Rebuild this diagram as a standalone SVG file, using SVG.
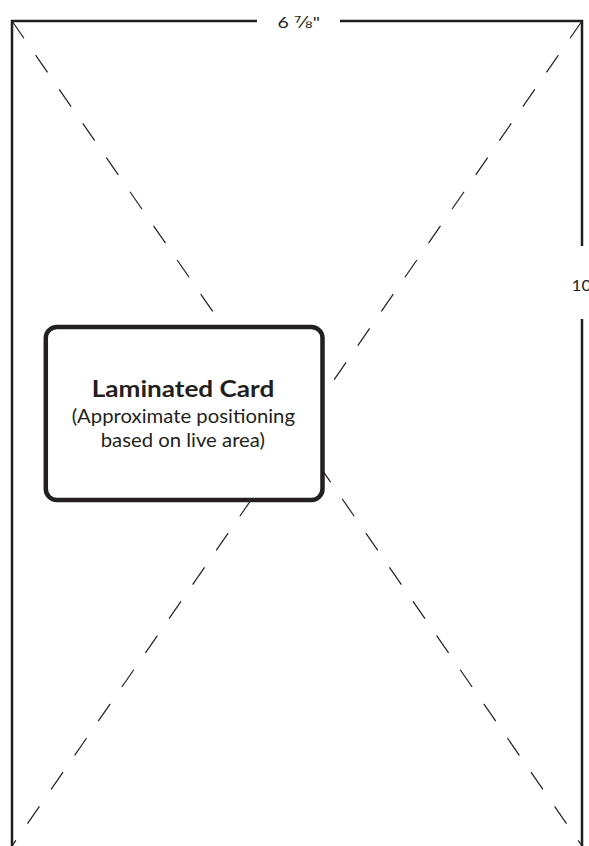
<svg xmlns="http://www.w3.org/2000/svg" width="589" height="846" viewBox="0 0 589 846">
<style>
.frame{fill:none;stroke:#231f20;stroke-width:2.5;stroke-linecap:butt;stroke-linejoin:miter}
.diag{fill:none;stroke:#231f20;stroke-width:1.2;stroke-dasharray:21 20.5}
.dim{font-family:Lato,"Liberation Sans",sans-serif;font-size:15px;fill:#231f20}
.frac{font-family:"DejaVu Sans",sans-serif;font-size:15px;fill:#231f20}
.title{font-family:Lato,"Liberation Sans",sans-serif;font-weight:700;font-size:23px;fill:#231f20}
.sub{font-family:Lato,"Liberation Sans",sans-serif;font-weight:400;font-size:19px;fill:#231f20}
</style>
<rect width="589" height="846" fill="#ffffff"/>
<g id="connectors">
<line class="diag" x1="12" y1="21" x2="582" y2="846"/>
<line class="diag" x1="582" y1="21" x2="12" y2="846"/>
</g>
<g id="frame">
<path class="frame" d="M257 21 H12 V846"/>
<path class="frame" d="M340 21 H582 V246"/>
<path class="frame" d="M582 319 V846"/>
<text class="dim" x="277.5" y="27.5" textLength="42.5" lengthAdjust="spacingAndGlyphs">6 <tspan class="frac">⅞</tspan>"</text>
<text class="dim" x="571.5" y="291" textLength="20" lengthAdjust="spacingAndGlyphs">10</text>
</g>
<g id="card">
<rect x="45.8" y="327" width="276.7" height="173" rx="11" ry="11" fill="#ffffff" stroke="#231f20" stroke-width="4.5"/>
<text class="title" x="91.7" y="396.7" textLength="182.6" lengthAdjust="spacingAndGlyphs">Laminated Card</text>
<text class="sub" x="71.7" y="423.3" textLength="223.3" lengthAdjust="spacingAndGlyphs">(Approximate positioning</text>
<text class="sub" x="100.7" y="447.3" textLength="164.3" lengthAdjust="spacingAndGlyphs">based on live area)</text>
</g>
</svg>
